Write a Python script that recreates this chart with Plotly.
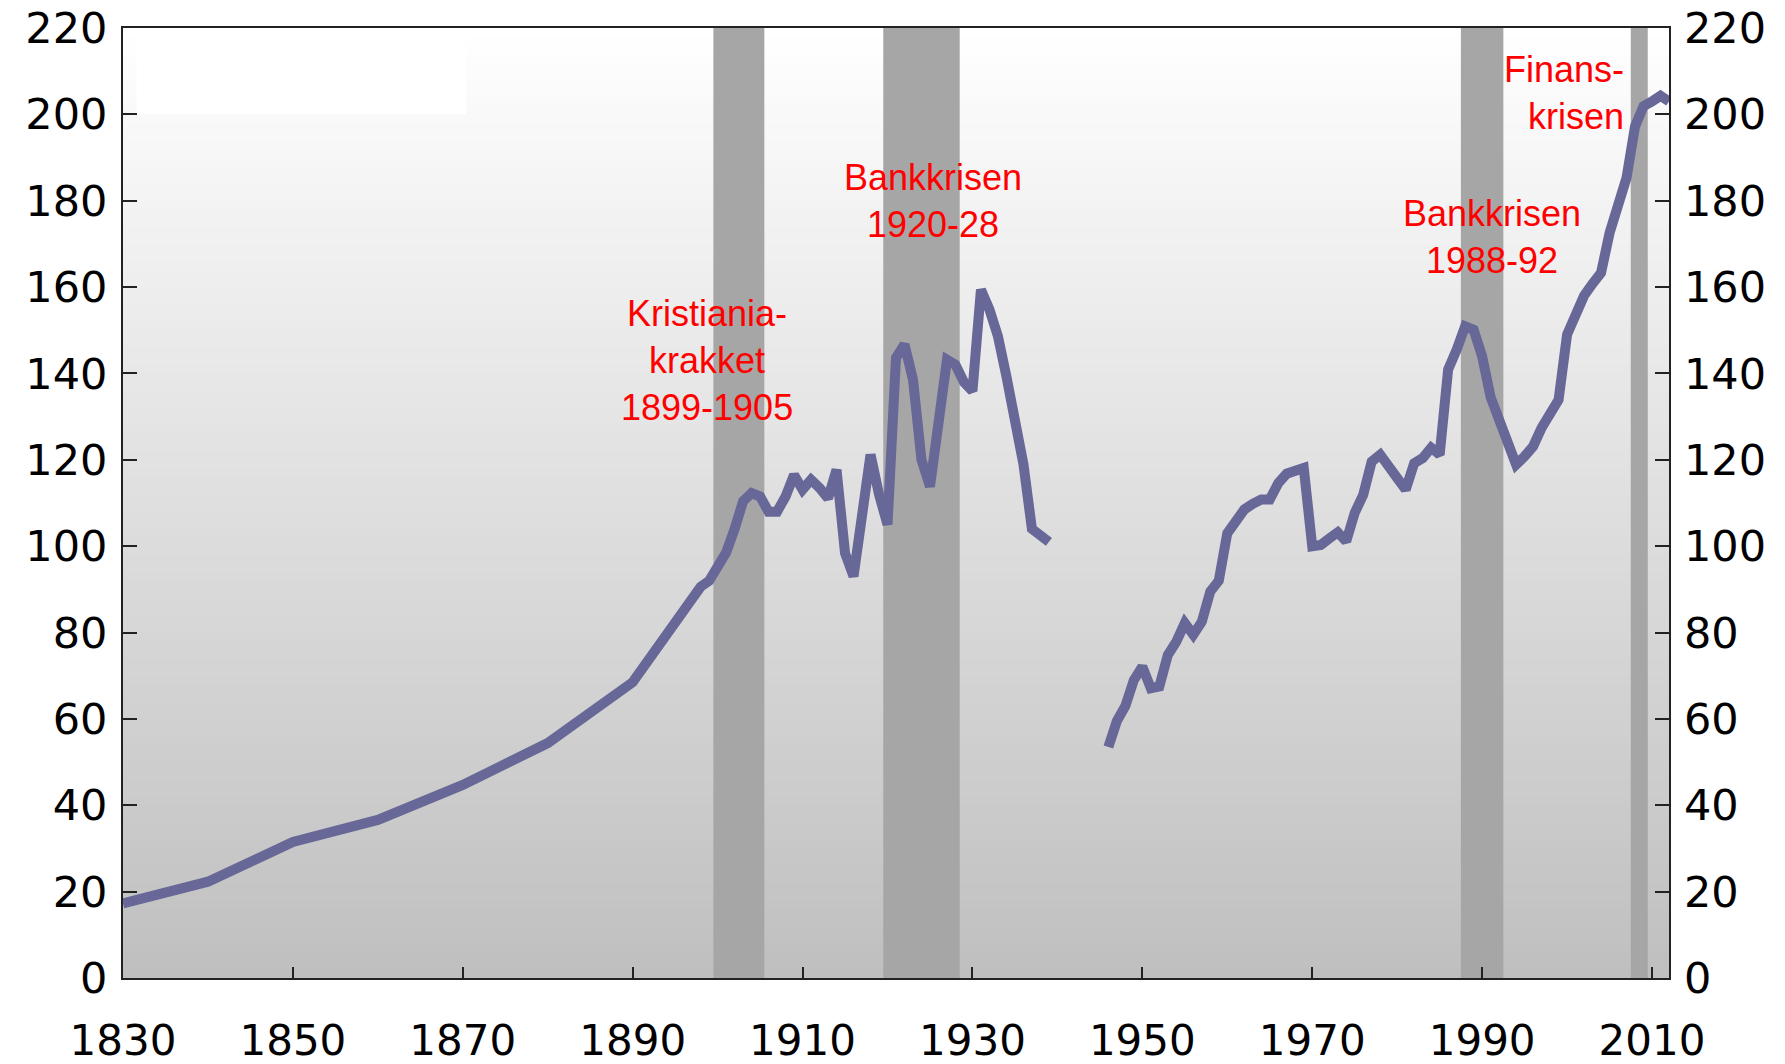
import plotly.graph_objects as go

# ---- data ----
years = [1830, 1840, 1850, 1860, 1870, 1880, 1890,
         1891, 1892, 1893, 1894, 1895, 1896, 1897, 1898, 1899, 1900,
         1901, 1902, 1903, 1904, 1905, 1906, 1907, 1908, 1909, 1910,
         1911, 1912, 1913, 1914, 1915, 1916, 1917, 1918, 1919, 1920,
         1921, 1922, 1923, 1924, 1925, 1926, 1927, 1928, 1929, 1930,
         1931, 1932, 1933, 1934, 1935, 1936, 1937, 1938, 1939,
         1940,
         1946, 1947, 1948, 1949, 1950,
         1951, 1952, 1953, 1954, 1955, 1956, 1957, 1958, 1959, 1960,
         1961, 1962, 1963, 1964, 1965, 1966, 1967, 1968, 1969, 1970,
         1971, 1972, 1973, 1974, 1975, 1976, 1977, 1978, 1979, 1980,
         1981, 1982, 1983, 1984, 1985, 1986, 1987, 1988, 1989, 1990,
         1991, 1992, 1993, 1994, 1995, 1996, 1997, 1998, 1999, 2000,
         2001, 2002, 2003, 2004, 2005, 2006, 2007, 2008, 2009, 2010,
         2011, 2012]
values = [17.3, 22.3, 31.5, 36.6, 44.7, 54.4, 68.5,
          71.2, 74.0, 76.8, 79.6, 82.4, 85.2, 88.0, 90.6, 92.0, 95.0,
          98.5, 104.0, 110.4, 112.3, 111.5, 108.0, 108.0, 111.5, 116.5, 113.1,
          115.4, 113.5, 111.1, 117.7, 98.4, 93.0, 107.0, 121.2, 112.0, 105.0,
          143.6, 146.7, 138.6, 120.0, 113.8, 130.0, 143.2, 142.0, 138.0, 135.9,
          159.4, 154.8, 148.6, 139.3, 130.0, 119.0, 104.0, 102.5, 101.0,
          None,
          53.5, 59.5, 63.0, 69.0, 72.1,
          67.1, 67.5, 74.8, 77.9, 82.2, 79.5, 82.5, 89.5, 92.0, 103.0,
          106.0, 108.5, 109.8, 110.8, 110.8, 114.6, 116.8, 117.6, 118.1, 100.0,
          100.3, 101.8, 103.2, 101.1, 107.7, 111.9, 119.6, 121.2, 118.9, 115.8,
          113.1, 119.2, 120.4, 122.8, 121.2, 140.9, 145.5, 150.9, 150.1, 144.0,
          134.5, 129.3, 124.0, 118.9, 120.8, 123.1, 127.4, 130.2, 133.9, 149.0,
          153.5, 158.0, 160.8, 163.3, 172.5, 179.0, 185.3, 197.2, 201.9, 203.0,
          204.3, 203.0]

# crisis periods (first year, last year)
crisis_start = [1900, 1920, 1988, 2008]
crisis_end = [1905, 1928, 1992, 2009]

crisis_labels = ["Kristiania-<br>krakket<br>1899-1905",
                 "Bankkrisen<br>1920-28",
                 "Bankkrisen<br>1988-92",
                 "Finans-<br>krisen"]

y_ticks = list(range(0, 221, 20))
x_ticks = list(range(1830, 2011, 20))

# ---- figure ----
fig = go.Figure()

shapes = []
# gradient background (white top -> grey bottom)
n_bands = 110
for i in range(n_bands):
    frac = i / n_bands
    g = int(round(191 + (255 - 191) * (frac + 0.5 / n_bands)))
    shapes.append(dict(type="rect", xref="paper", yref="paper",
                       x0=0, x1=1, y0=frac, y1=(i + 1) / n_bands + 0.002,
                       fillcolor=f"rgb({g},{g},{g})", line=dict(width=0),
                       layer="below"))
# faint white box top-left
shapes.append(dict(type="rect", xref="x", yref="y", x0=1831.6, x1=1870.4,
                   y0=200, y1=219.5, fillcolor="white", line=dict(width=0),
                   layer="below"))
# crisis bands
for s, e in zip(crisis_start, crisis_end):
    shapes.append(dict(type="rect", xref="x", yref="paper",
                       x0=s - 0.5, x1=e + 0.5, y0=0, y1=1,
                       fillcolor="#a6a6a6", line=dict(width=0), layer="below"))

fig.add_trace(go.Scatter(x=years, y=values, mode="lines",
                         line=dict(color="#676798", width=10),
                         connectgaps=False, showlegend=False,
                         hoverinfo="x+y"))
# invisible trace to anchor the right axis
fig.add_trace(go.Scatter(x=years, y=values, mode="lines", yaxis="y2",
                         line=dict(width=0), opacity=0, showlegend=False,
                         hoverinfo="skip"))

ann_font = dict(family="Liberation Sans, Arial, sans-serif", size=36, color="#ff0000")
ann_x = [1898.7, 1925.3, 1991.2, 2006.9]
ann_y = [143, 180, 171.6, 205]
ann_anchor = ["center", "center", "center", "right"]
annotations = []
for t, ax_, ay_, anc in zip(crisis_labels, ann_x, ann_y, ann_anchor):
    annotations.append(dict(x=ax_, y=ay_, xref="x", yref="y", text=t,
                            showarrow=False, xanchor=anc, yanchor="middle",
                            align=anc if anc != "center" else "center",
                            font=ann_font))

tick_font = dict(family="DejaVu Sans, sans-serif", size=43, color="#000000")
x_tick_font = dict(family="DejaVu Sans, sans-serif", size=42, color="#000000")

fig.update_layout(
    width=1785, height=1064,
    margin=dict(l=123, r=116, t=28, b=86, pad=0, autoexpand=False),
    paper_bgcolor="white", plot_bgcolor="#dddddd",
    shapes=shapes, annotations=annotations,
    xaxis=dict(range=[1830, 2012], tickvals=x_ticks, ticks="inside",
               ticklen=11, tickwidth=2, tickcolor="#222",
               showgrid=False, zeroline=False, showline=True,
               linecolor="#222", linewidth=2, mirror=True, automargin=False,
               tickfont=x_tick_font, ticklabelstandoff=25),
    yaxis=dict(range=[0, 220], tickvals=y_ticks, ticks="inside",
               ticklen=14, tickwidth=2, tickcolor="#222",
               showgrid=False, zeroline=False, showline=True,
               linecolor="#222", linewidth=2, mirror=True, automargin=False,
               tickfont=tick_font, ticklabelstandoff=5),
    yaxis2=dict(range=[0, 220], tickvals=y_ticks, ticks="inside",
                ticklen=14, tickwidth=2, tickcolor="#222",
                overlaying="y", side="right", automargin=False,
                showgrid=False, zeroline=False, showline=False,
                tickfont=tick_font, ticklabelstandoff=14),
)

fig.write_html("out.html",
               config={"displayModeBar": False},
               post_script="document.body.style.margin='0';document.body.style.overflow='hidden';")
